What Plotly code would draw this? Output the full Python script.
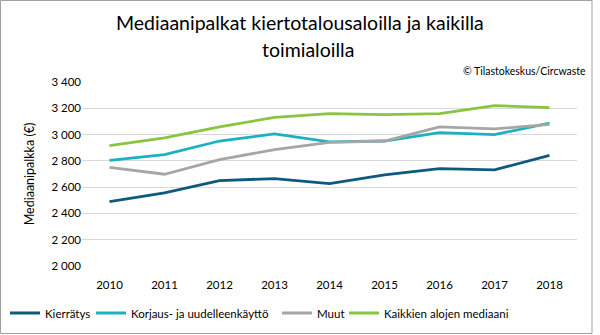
import plotly.graph_objects as go

years = ["2010", "2011", "2012", "2013", "2014", "2015", "2016", "2017", "2018"]
kierratys = [2490, 2556, 2650, 2665, 2627, 2693, 2741, 2731, 2842]
korjaus = [2804, 2847, 2951, 3005, 2944, 2951, 3015, 2999, 3088]
muut = [2751, 2698, 2809, 2885, 2941, 2951, 3058, 3043, 3078]
kaikki = [2916, 2974, 3058, 3131, 3159, 3152, 3159, 3220, 3205]

series = [
    ("Kierrätys", kierratys, "#0E5A7E"),
    ("Korjaus- ja uudelleenkäyttö", korjaus, "#1BB1C1"),
    ("Muut", muut, "#A6A6A6"),
    ("Kaikkien alojen mediaani", kaikki, "#88C540"),
]
# left pixel of each legend box (single row, one legend per series)
legend_x_px = [5, 91, 277, 344]

FONT = "Lato"
W, H = 600, 335
ML, MR, MT, MB = 82, 23, 82, 69
PW, PH = W - ML - MR, H - MT - MB

fig = go.Figure()
legend_layouts = {}
for i, (name, vals, col) in enumerate(series):
    lname = "legend" if i == 0 else f"legend{i+1}"
    fig.add_trace(go.Scatter(x=years, y=vals, name=name, mode="lines", legend=lname,
                             line=dict(color=col, width=2.8)))
    legend_layouts[lname] = dict(orientation="h", xref="container", yref="container",
                                 x=legend_x_px[i] / W, xanchor="left",
                                 y=1 - 313 / H, yanchor="middle",
                                 font=dict(size=11.5, family=FONT), itemwidth=30,
                                 bgcolor="rgba(0,0,0,0)")

def px_to_paper_x(px):
    return (px - ML) / PW

def px_to_paper_y(py):
    return (H - MB - py) / PH

fig.update_layout(
    width=W, height=H,
    margin=dict(l=ML, r=MR, t=MT, b=MB, autoexpand=False),
    paper_bgcolor="white", plot_bgcolor="white",
    separators=", ",
    font=dict(family=FONT, color="#000000"),
    showlegend=True,
    xaxis=dict(type="category", range=[-0.5, 8.5], showgrid=False,
               showline=False, zeroline=False, ticks="", ticklabelstandoff=10,
               tickfont=dict(size=11.5, family=FONT)),
    yaxis=dict(range=[2000, 3400], dtick=200, tickformat=",d",
               showgrid=True, gridcolor="#D9D9D9", gridwidth=1,
               zeroline=False, showline=False, ticks="",
               tickfont=dict(size=11.5, family=FONT),
               title=dict(text="Mediaanipalkka (€)", font=dict(size=12.5, family=FONT),
                          standoff=14)),
    annotations=[
        dict(text="Mediaanipalkat kiertotalousaloilla ja kaikilla", xref="paper", yref="paper",
             x=px_to_paper_x(300), y=px_to_paper_y(22), xanchor="center", yanchor="middle",
             showarrow=False, font=dict(size=19.5, family=FONT)),
        dict(text="toimialoilla", xref="paper", yref="paper",
             x=px_to_paper_x(308), y=px_to_paper_y(50), xanchor="center", yanchor="middle",
             showarrow=False, font=dict(size=19.5, family=FONT)),
        dict(text="© Tilastokeskus/Circwaste", xref="paper", yref="paper",
             x=px_to_paper_x(588), y=px_to_paper_y(71), xanchor="right", yanchor="middle",
             showarrow=False, font=dict(size=10.5, family=FONT)),
    ],
    shapes=[
        dict(type="rect", xref="paper", yref="paper",
             x0=px_to_paper_x(0.5), x1=px_to_paper_x(592), y0=px_to_paper_y(0.5), y1=px_to_paper_y(333.5),
             line=dict(color="#A0A0A0", width=1), fillcolor="rgba(0,0,0,0)", layer="below"),
    ],
    **legend_layouts,
)

fig.write_html("out.html")
